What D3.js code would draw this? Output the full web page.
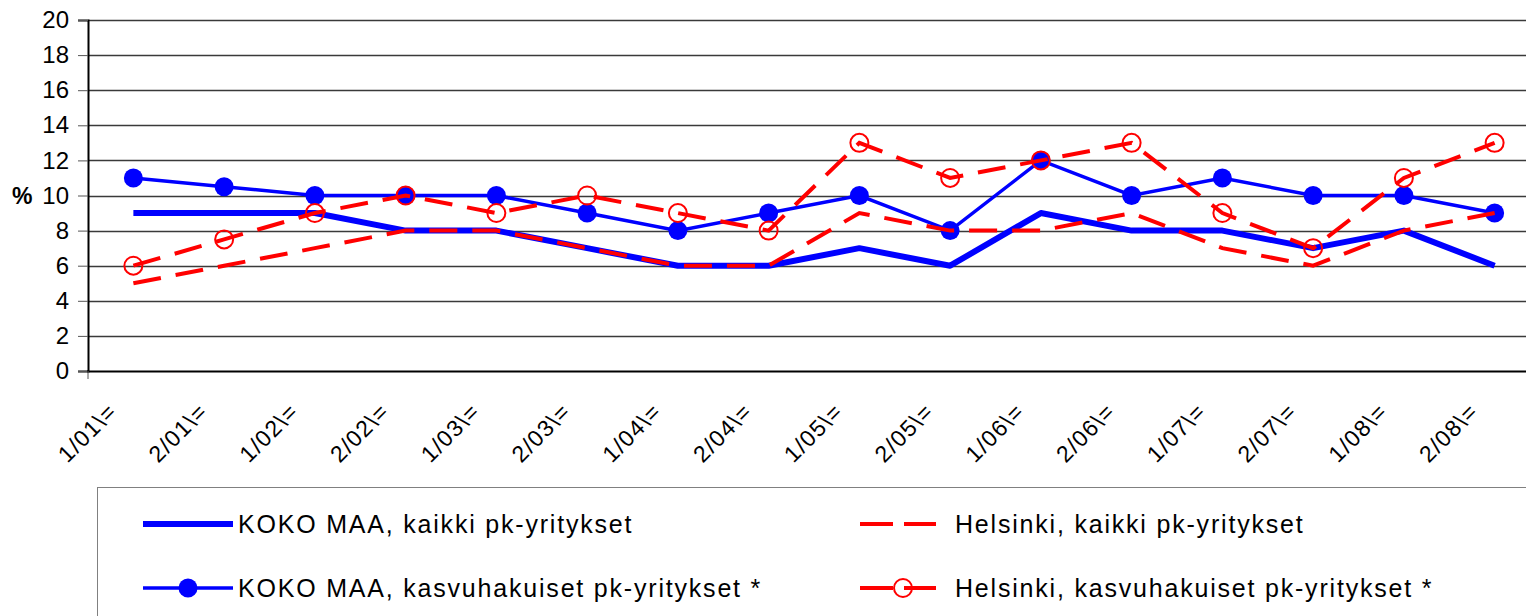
<!DOCTYPE html>
<html>
<head>
<meta charset="utf-8">
<script src="https://cdn.jsdelivr.net/npm/d3@7"></script>
<style>
body{margin:0;background:#fff;}
svg{display:block;font-family:Arial,"Liberation Sans",sans-serif;}
</style>
</head>
<body>
<div class="canvas"></div>
<script>
var pageWidth = 1526,
    pageHeight = 616;

// data
var periods = ['1/01\\=','2/01\\=','1/02\\=','2/02\\=','1/03\\=','2/03\\=','1/04\\=','2/04\\=',
               '1/05\\=','2/05\\=','1/06\\=','2/06\\=','1/07\\=','2/07\\=','1/08\\=','2/08\\='];
var kokoKaikki   = [9, 9, 9, 8, 8, 7, 6, 6, 7, 6, 9, 8, 8, 7, 8, 6];
var kokoKasvu    = [11, 10.5, 10, 10, 10, 9, 8, 9, 10, 8, 12, 10, 11, 10, 10, 9];
var helKaikki    = [5, 6, 7, 8, 8, 7, 6, 6, 9, 8, 8, 9, 7, 6, 8, 9];
var helKasvu     = [6, 7.5, 9, 10, 9, 10, 9, 8, 13, 11, 12, 13, 9, 7, 11, 13];
var yTicks = [0, 2, 4, 6, 8, 10, 12, 14, 16, 18, 20];
var legendLabels = ['KOKO MAA, kaikki pk-yritykset', 'Helsinki, kaikki pk-yritykset',
                    'KOKO MAA, kasvuhakuiset pk-yritykset *', 'Helsinki, kasvuhakuiset pk-yritykset *'];

var plotLeft = 88, plotRight = 1540, plotTop = 20, plotBottom = 371;

var svg = d3.select('.canvas')
    .append('svg')
    .attr('width', pageWidth)
    .attr('height', pageHeight);

var x = d3.scaleBand().domain(periods).range([plotLeft, plotRight]);
var y = d3.scaleLinear().domain([0, 20]).range([plotBottom, plotTop]);
function cx(d, i){ return x(periods[i]) + x.bandwidth()/2; }

// gridlines
svg.append('g').selectAll('line')
    .data(yTicks.filter(function(t){ return t > 0; }))
    .enter().append('line')
    .attr('x1', plotLeft).attr('x2', plotRight)
    .attr('y1', function(d){ return Math.round(y(d)) + 0.5; })
    .attr('y2', function(d){ return Math.round(y(d)) + 0.5; })
    .style('stroke', '#3a3a3a').style('stroke-width', 1.3);

// y axis
var yAxis = svg.append('g')
    .attr('transform', 'translate(' + plotLeft + ',0)')
    .call(d3.axisLeft(y).tickValues(yTicks).tickSize(10).tickPadding(9));
yAxis.attr('font-size', null).attr('font-family', null);
yAxis.select('.domain').style('stroke', '#000').style('stroke-width', 2);
yAxis.selectAll('.tick line').style('stroke', '#555');
yAxis.selectAll('text').style('font-size', '24px').style('fill', '#000');

svg.append('text')
    .attr('x', 12).attr('y', y(10) + 8)
    .style('font-size', '23px').style('font-weight', 'bold')
    .text('%');

// x axis
svg.append('line')
    .attr('x1', plotLeft - 1).attr('x2', plotRight)
    .attr('y1', plotBottom + 0.5).attr('y2', plotBottom + 0.5)
    .style('stroke', '#000').style('stroke-width', 2);
svg.append('line')
    .attr('x1', plotLeft).attr('x2', plotLeft)
    .attr('y1', plotBottom).attr('y2', plotBottom + 8)
    .style('stroke', '#555');

svg.append('g').selectAll('text')
    .data(periods)
    .enter().append('text')
    .attr('transform', function(d, i){
        return 'translate(' + (cx(d, i) - 15) + ',' + (plotBottom + 42) + ') rotate(-45)';
    })
    .attr('text-anchor', 'end')
    .style('font-size', '23px')
    .style('letter-spacing', '1.2px')
    .text(function(d){ return d; });

var line = d3.line()
    .x(function(d, i){ return cx(d, i); })
    .y(function(d){ return y(d); });

// series
svg.append('path').datum(kokoKaikki)
    .attr('d', line)
    .style('fill', 'none').style('stroke', '#0000ff').style('stroke-width', 6)
    .style('stroke-linejoin', 'round');

svg.append('path').datum(kokoKasvu)
    .attr('d', line)
    .style('fill', 'none').style('stroke', '#0000ff').style('stroke-width', 3.5);
svg.append('g').selectAll('circle')
    .data(kokoKasvu)
    .enter().append('circle')
    .attr('cx', cx).attr('cy', function(d){ return y(d); })
    .attr('r', 9.5)
    .style('fill', '#0000ff');

svg.append('path').datum(helKaikki)
    .attr('d', line)
    .style('fill', 'none').style('stroke', '#ff0000').style('stroke-width', 4)
    .style('stroke-dasharray', '28,15');

svg.append('path').datum(helKasvu)
    .attr('d', line)
    .style('fill', 'none').style('stroke', '#ff0000').style('stroke-width', 4)
    .style('stroke-dasharray', '28,15');
svg.append('g').selectAll('circle')
    .data(helKasvu)
    .enter().append('circle')
    .attr('cx', cx).attr('cy', function(d){ return y(d); })
    .attr('r', 9)
    .style('fill', 'none').style('stroke', '#ff0000').style('stroke-width', 2);

// legend
var legend = svg.append('g');
legend.append('rect')
    .attr('x', 97.5).attr('y', 487.5)
    .attr('width', 1440).attr('height', 140)
    .style('fill', '#fff').style('stroke', '#808080').style('stroke-width', 1);

var rowY = [524, 524, 588, 588];
var textX = [238, 955, 238, 955];

// KOKO MAA kaikki
legend.append('line')
    .attr('x1', 143).attr('x2', 233).attr('y1', rowY[0]).attr('y2', rowY[0])
    .style('stroke', '#0000ff').style('stroke-width', 6);
// Helsinki kaikki
legend.append('line')
    .attr('x1', 860).attr('x2', 936).attr('y1', rowY[1]).attr('y2', rowY[1])
    .style('stroke', '#ff0000').style('stroke-width', 4)
    .style('stroke-dasharray', '33,11');
// KOKO MAA kasvu
legend.append('line')
    .attr('x1', 143).attr('x2', 233).attr('y1', rowY[2]).attr('y2', rowY[2])
    .style('stroke', '#0000ff').style('stroke-width', 3.5);
legend.append('circle')
    .attr('cx', 188).attr('cy', rowY[2]).attr('r', 9.5)
    .style('fill', '#0000ff');
// Helsinki kasvu
legend.append('line')
    .attr('x1', 860).attr('x2', 936).attr('y1', rowY[3]).attr('y2', rowY[3])
    .style('stroke', '#ff0000').style('stroke-width', 4)
    .style('stroke-dasharray', '33,11');
legend.append('circle')
    .attr('cx', 903).attr('cy', rowY[3]).attr('r', 9)
    .style('fill', 'none').style('stroke', '#ff0000').style('stroke-width', 2);

legend.selectAll('text.leg')
    .data(legendLabels)
    .enter().append('text')
    .attr('class', 'leg')
    .attr('x', function(d, i){ return textX[i]; })
    .attr('y', function(d, i){ return rowY[i]; })
    .attr('dy', '0.35em')
    .style('font-size', '25px')
    .style('letter-spacing', '1.8px')
    .text(function(d){ return d; });
</script>
</body>
</html>
